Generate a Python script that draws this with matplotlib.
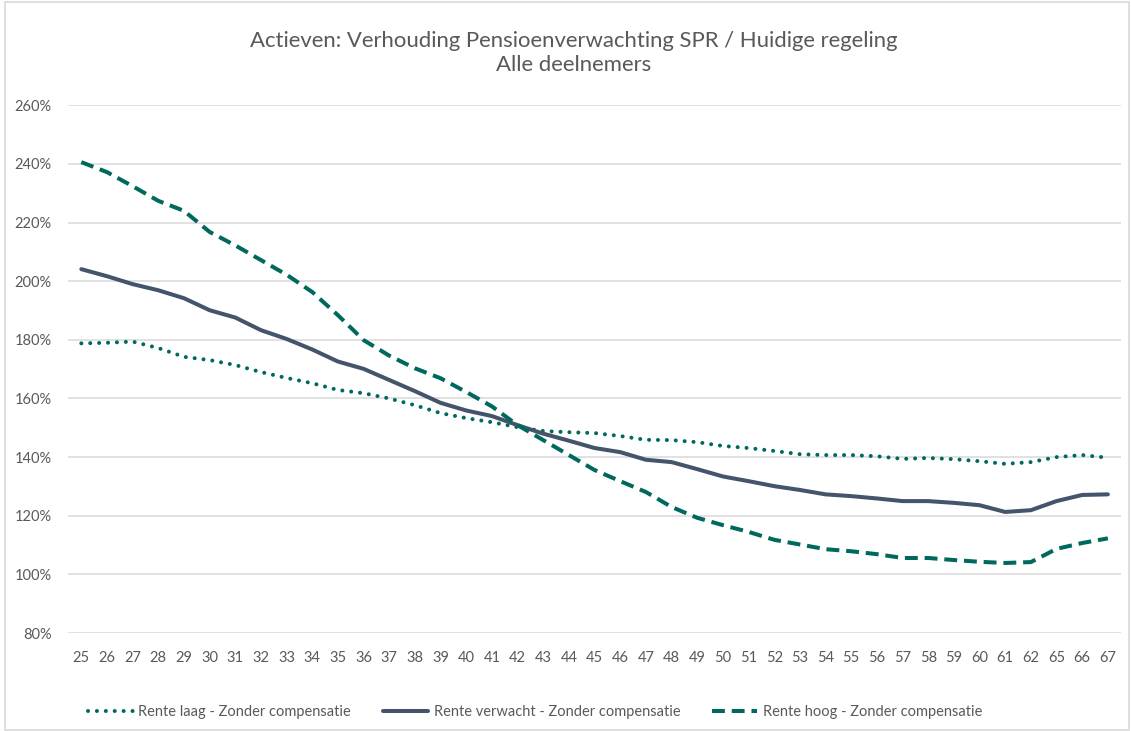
import matplotlib
matplotlib.use("Agg")
import matplotlib.pyplot as plt
from matplotlib.patches import Rectangle
from matplotlib.ticker import FuncFormatter

ages = ["25", "26", "27", "28", "29", "30", "31", "32", "33", "34", "35", "36", "37", "38",
        "39", "40", "41", "42", "43", "44", "45", "46", "47", "48", "49", "50", "51", "52",
        "53", "54", "55", "56", "57", "58", "59", "60", "61", "62", "65", "66", "67"]

rente_laag = [178.8, 179.0, 179.4, 177.2, 174.2, 173.1, 171.4, 169.0, 167.0, 165.2, 162.9,
              161.8, 160.0, 157.7, 155.0, 153.3, 151.9, 150.2, 148.9, 148.5, 148.2, 147.2,
              145.9, 145.8, 145.1, 143.8, 143.1, 142.1, 141.0, 140.7, 140.7, 140.3, 139.4,
              139.7, 139.3, 138.6, 137.7, 138.3, 140.0, 140.7, 139.8]

rente_verwacht = [204.1, 201.7, 199.0, 196.9, 194.2, 190.1, 187.6, 183.3, 180.3, 176.7,
                  172.6, 170.1, 166.3, 162.5, 158.5, 155.9, 154.0, 150.9, 148.0, 145.6,
                  143.1, 141.7, 139.1, 138.3, 135.9, 133.4, 131.8, 130.1, 128.8, 127.3,
                  126.7, 125.9, 125.0, 125.0, 124.4, 123.6, 121.3, 121.9, 125.0, 127.1, 127.3]

rente_hoog = [240.6, 237.2, 232.4, 227.4, 224.0, 216.8, 212.2, 207.2, 202.2, 196.3, 188.4,
              179.9, 174.6, 170.3, 166.9, 162.2, 157.3, 150.9, 145.8, 140.7, 135.6, 131.8,
              128.1, 123.0, 119.3, 116.8, 114.5, 111.8, 110.2, 108.6, 107.9, 106.9, 105.6,
              105.6, 104.9, 104.3, 103.9, 104.2, 108.7, 110.7, 112.3]

labels = ["Rente laag - Zonder compensatie",
          "Rente verwacht - Zonder compensatie",
          "Rente hoog - Zonder compensatie"]

title = "Actieven: Verhouding Pensioenverwachting SPR / Huidige regeling\nAlle deelnemers"

plt.rcParams['font.family'] = ['Lato', 'DejaVu Sans']

teal = "#00695E"
slate = "#44546A"
grey_text = "#595959"
grid_col = "#D9D9D9"

fig = plt.figure(figsize=(11.32, 7.31), dpi=100)
fig.patches.append(Rectangle((0.004, 0.002), 0.993, 0.995, transform=fig.transFigure,
                             fill=False, edgecolor=grid_col, linewidth=1.2))

ax = fig.add_axes([0.0605, 0.134, 0.9295, 0.722])
x = list(range(len(ages)))

ax.plot(x, rente_laag, color=teal, linewidth=2.9, linestyle=(0, (0.01, 2.2)),
        dash_capstyle="round", solid_capstyle="round", label=labels[0])
ax.plot(x, rente_verwacht, color=slate, linewidth=2.9, solid_capstyle="round",
        solid_joinstyle="round", label=labels[1])
ax.plot(x, rente_hoog, color=teal, linewidth=2.9, linestyle=(0, (3.2, 1.7)),
        dash_capstyle="butt", label=labels[2])

ax.set_xlim(-0.5, len(ages) - 0.5)
ax.set_ylim(80, 260)
ax.set_yticks(range(80, 261, 20))
ax.yaxis.set_major_formatter(FuncFormatter(lambda v, p: f"{int(v)}%"))
ax.set_xticks(x)
ax.set_xticklabels(ages)

ax.grid(axis="y", color=grid_col, linewidth=1.1)
ax.set_axisbelow(True)
for s in ax.spines.values():
    s.set_visible(False)
ax.tick_params(axis="both", length=0, colors=grey_text, labelsize=10.5)
ax.tick_params(axis="y", pad=12)
ax.tick_params(axis="x", pad=13)

fig.text(0.507, 0.927, title, ha="center", va="center", fontsize=15.9,
         color=grey_text, linespacing=1.25)

leg = fig.legend(loc="center", bbox_to_anchor=(0.4726, 0.026), ncol=3, frameon=False,
                 fontsize=10.5, handlelength=3.1, handletextpad=0.35, columnspacing=2.2)
for t in leg.get_texts():
    t.set_color(grey_text)

fig.savefig("out.png", dpi=100, facecolor="white")
